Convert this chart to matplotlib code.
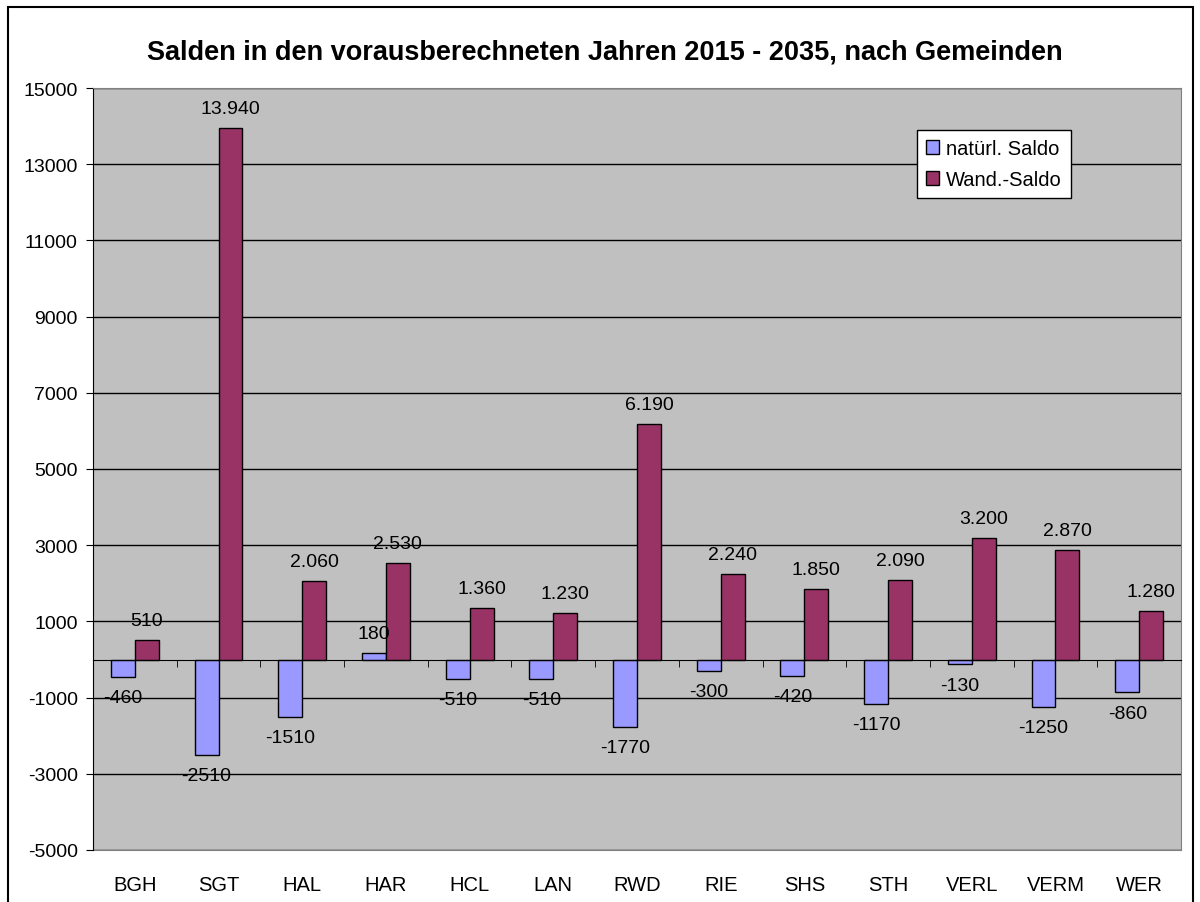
import matplotlib.pyplot as plt
import numpy as np
from matplotlib.patches import Rectangle
from matplotlib.ticker import FixedLocator

plt.rcParams['font.family'] = ['Liberation Sans', 'DejaVu Sans']
plt.rcParams['axes.unicode_minus'] = False

gemeinden = ["BGH", "SGT", "HAL", "HAR", "HCL", "LAN", "RWD", "RIE", "SHS", "STH", "VERL", "VERM", "WER"]
natuerl_saldo = [-460, -2510, -1510, 180, -510, -510, -1770, -300, -420, -1170, -130, -1250, -860]
wand_saldo = [510, 13940, 2060, 2530, 1360, 1230, 6190, 2240, 1850, 2090, 3200, 2870, 1280]
y_ticks = list(range(-5000, 15001, 2000))

blue = "#9999FF"
red = "#993366"

fig = plt.figure(figsize=(12, 9.03), dpi=100)
ax = fig.add_axes([93 / 1200, 1 - 851 / 903, (1181 - 93) / 1200, (851 - 89) / 903])
ax.set_facecolor("#C0C0C0")

# figure frame
fig.patches.append(Rectangle((8 / 1200, -0.02), (1193 - 8) / 1200, 1.02 - 8 / 903,
                             transform=fig.transFigure, fill=False, edgecolor="black", lw=1.5))

x = np.arange(len(gemeinden))
w = 1 / 3.5
b1 = ax.bar(x - w / 2, natuerl_saldo, w, color=blue, edgecolor="black", lw=1, zorder=3)
b2 = ax.bar(x + w / 2, wand_saldo, w, color=red, edgecolor="black", lw=1, zorder=3)

for xi, v in zip(x, natuerl_saldo):
    off = 14 if v >= 0 else -15
    ax.annotate(str(v), (xi - w / 2, v), xytext=(0, off), textcoords="offset points",
                ha="center", va="center", fontsize=14, zorder=4)
for xi, v in zip(x, wand_saldo):
    ax.annotate(f"{v:,}".replace(",", "."), (xi + w / 2, v), xytext=(0, 14),
                textcoords="offset points", ha="center", va="center", fontsize=14, zorder=4)

ax.set_xlim(-0.5, len(gemeinden) - 0.5)
ax.set_ylim(-5000, 15000)
ax.set_yticks(y_ticks)
ax.tick_params(axis="y", direction="out", length=5, labelsize=14, pad=6)
ax.yaxis.grid(True, color="black", lw=1, zorder=1)
ax.set_axisbelow(True)

# category axis crosses at 0
ax.spines["bottom"].set_position(("data", 0))
ax.spines["bottom"].set_zorder(3.5)
ax.set_xticks(x)
ax.set_xticklabels([])
ax.tick_params(axis="x", which="major", length=0)
ax.xaxis.set_minor_locator(FixedLocator(np.arange(-0.5, len(gemeinden), 1)))
ax.tick_params(axis="x", which="minor", direction="out", length=5, color="black")
for s in ["top", "right"]:
    ax.spines[s].set_color("#808080")
ax.spines["left"].set_color("black")

sec = ax.secondary_xaxis(0)
sec.set_xticks(x)
sec.set_xticklabels(gemeinden)
sec.tick_params(length=0, labelsize=14.5, pad=18)
sec.spines["bottom"].set_color("#808080")

fig.text(605 / 1200, 1 - 52 / 903,
         "Salden in den vorausberechneten Jahren 2015 - 2035, nach Gemeinden",
         fontsize=19.5, fontweight="bold", ha="center", va="center")

leg = ax.legend([b1, b2], ["natürl. Saldo", "Wand.-Saldo"], loc="upper left",
                bbox_to_anchor=((917 - 93) / 1088, 1 - (131 - 89) / 762),
                fontsize=14.5, frameon=True, fancybox=False, framealpha=1,
                edgecolor="black", handlelength=0.65, handleheight=0.65,
                handletextpad=0.35, borderpad=0.45, labelspacing=0.6, borderaxespad=0)
leg.get_frame().set_linewidth(1)

fig.savefig("out.png", dpi=100)
